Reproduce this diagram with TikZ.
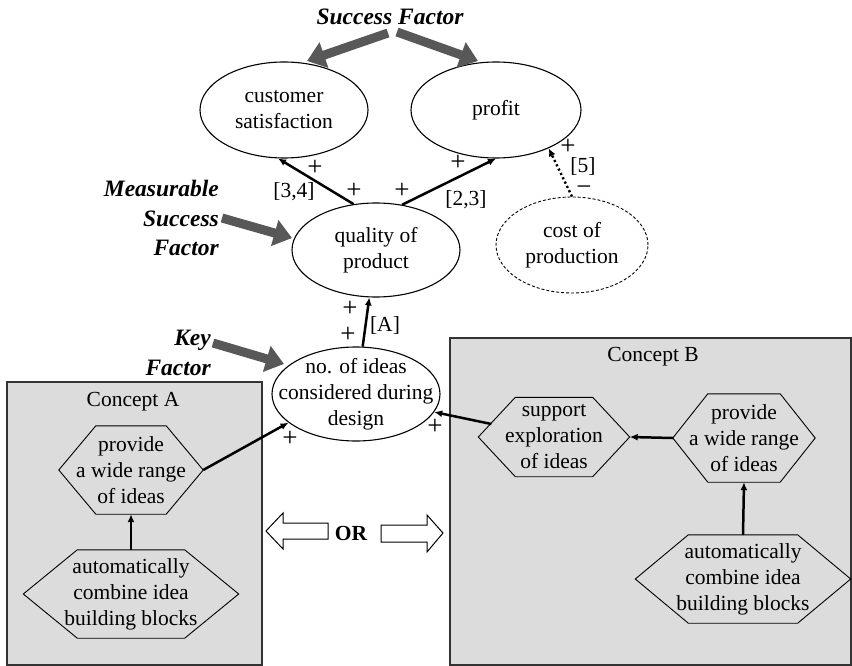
\documentclass[tikz,border=0pt]{standalone}
\usepackage{fontspec}
\setmainfont{Liberation Serif}
\usetikzlibrary{arrows.meta,calc,shapes.geometric}
\definecolor{boxgray}{HTML}{DCDCDC}
\definecolor{fatgray}{HTML}{585858}
\newcommand\hexnode[7]{%
  \node[hexbox, minimum width=#4pt, minimum height=#5pt] (#1) at (#2,#3) {#7};
  \draw[hexline] (#1.west) -- ($(#1.north west)+(#6,0)$) -- ($(#1.north east)+(-#6,0)$)
     -- (#1.east) -- ($(#1.south east)+(-#6,0)$) -- ($(#1.south west)+(#6,0)$) -- cycle;}
\begin{document}
\begin{tikzpicture}[x=1pt,y=-1pt,
  every node/.style={font=\fontsize{21.5}{26}\selectfont, inner sep=0pt, align=center},
  oval/.style={draw, ellipse, line width=1.1pt, fill=white, inner xsep=-25pt, inner ysep=-12pt},
  hexbox/.style={rectangle},
  hexline/.style={line width=0.9pt},
  concept/.style={draw=black!80, line width=1.4pt, fill=boxgray},
  conn/.style={line width=2.5pt, -{Latex[length=8pt,width=7pt]}},
  dotconn/.style={line width=2.4pt, dash pattern=on 2.2pt off 2.6pt, -{Latex[length=8pt,width=7pt]}},
  fat/.style={draw=fatgray, line width=9pt, -{Triangle[length=18pt,width=26pt]}},
  factor/.style={font=\fontsize{23.5}{29.5}\selectfont\bfseries\itshape},
  sign/.style={font=\fontsize{21.5}{25.5}\selectfont},
  plus/.style={font=\fontsize{27}{27}\selectfont, text height=12pt, text depth=0pt},
  blockarrow/.style={draw, line width=1pt, fill=white}
]
\useasboundingbox (0,0) rectangle (852,666);

% concept boxes
\draw[concept] (7,382) rectangle (262,665);
\draw[concept] (450,338) rectangle (851,665);
\node (ca) at (133,402) {Concept A};
\node (cb) at (653,357) {Concept B};

% hexagons
\hexnode{provA}{131}{470}{144}{88}{37}{provide\\a wide range\\of ideas}
\hexnode{autoA}{131}{594}{215}{88}{54}{automatically\\combine idea\\building blocks}
\hexnode{supB}{554}{437}{151}{79}{37}{support\\exploration\\of ideas}
\hexnode{provB}{744}{438}{142}{88}{35}{provide\\a wide range\\of ideas}
\hexnode{autoB}{743}{579}{215}{88}{53}{automatically\\combine idea\\building blocks}

% ellipses
\node[oval, minimum width=168pt, minimum height=96pt] (cs) at (284,110) {customer\\satisfaction};
\node[oval, minimum width=170pt, minimum height=96pt] (profit) at (496,110) {profit};
\node[oval, minimum width=168pt, minimum height=94pt] (quality) at (376,250) {quality of\\product};
\node[oval, dash pattern=on 3pt off 2pt, line width=0.9pt, minimum width=152pt, minimum height=96pt] (cost) at (572,245) {cost of\\production};
\node[oval, minimum width=168pt, minimum height=94pt] (ideas) at (356,394) {no. of ideas\\considered during\\design};

% factor labels
\node[factor] (sf) at (390,17) {Success Factor};
\node[factor, align=right, anchor=east] (msf) at (219,218) {Measurable\\Success\\Factor};
\node[factor, align=right, anchor=east] (kf) at (211,353) {Key\\Factor};

\coordinate (sfL) at (388,33);
\coordinate (sfLt) at (307,61);
\coordinate (sfR) at (397,32);
\coordinate (sfRt) at (478,61);
\coordinate (msfA) at (222,218);
\coordinate (msfAt) at (292,238);
\coordinate (kfA) at (213,343);
\coordinate (kfAt) at (284,364);
\draw[fat] (sfL) -- (sfLt);
\draw[fat] (sfR) -- (sfRt);
\draw[fat] (msfA) -- (msfAt);
\draw[fat] (kfA) -- (kfAt);

% connectors
\draw[conn] (quality.116) -- (cs.263);
\draw[conn] (quality.60) -- (profit.270);
\draw[dotconn] (cost.north) -- (profit.-36);
\draw[conn] (ideas.82) -- (quality.262);
\draw[conn] (provA.east) -- (ideas.203);
\draw[conn] ($(supB.west)+(13,-13)$) -- (ideas.-13);
\draw[conn] (provB.west) -- (supB.east);
\draw[conn] (autoB.north) -- (provB.south);
\draw[conn] (autoA.north) -- (provA.south);

% signs and labels
\node[plus] (p1) at (315,170) {+};
\node[sign] (l34) at (294,192) {[3,4]};
\node[plus] (p2) at (354,193) {+};
\node[plus] (p3) at (402,193) {+};
\node[plus] (p4) at (458,165) {+};
\node[sign] (l23) at (466,200) {[2,3]};
\node[plus] (p5) at (568,149) {+};
\node[sign] (l5) at (583,166) {[5]};
\node[plus] (m5) at (584,190) {−};
\node[plus] (p6) at (350,310) {+};
\node[plus] (p7) at (348,336) {+};
\node[sign] (lA) at (385,325) {[A]};
\node[plus] (p8) at (290,440) {+};
\node[plus] (p9) at (435,428) {+};

% OR block arrows
\node[font=\fontsize{21.5}{25.5}\selectfont\bfseries] (or) at (351,533) {OR};
\draw[blockarrow] (266,531) -- (283,513) -- (283,523) -- (328,523) -- (328,539) -- (283,539) -- (283,549) -- cycle;
\draw[blockarrow] (443,533) -- (427,515) -- (427,525) -- (381,525) -- (381,542) -- (427,542) -- (427,552) -- cycle;
\end{tikzpicture}
\end{document}
